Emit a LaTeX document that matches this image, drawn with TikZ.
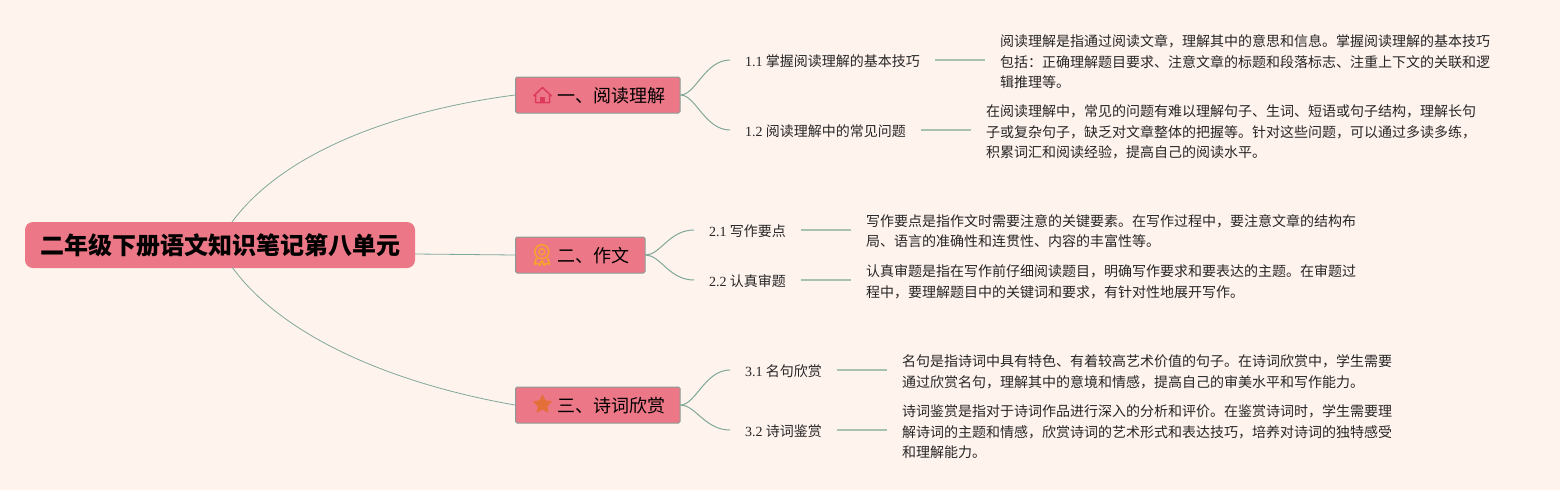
\documentclass[tikz,border=0pt]{standalone}
\usepackage{fontspec}
\usepackage{xcolor}
\usetikzlibrary{shapes.geometric,calc}
\setmainfont{Liberation Serif}
\newfontfamily\cjk{Noto Sans CJK SC}
\definecolor{pagebg}{HTML}{FFF3EE}
\definecolor{boxfill}{HTML}{EC7787}
\definecolor{boxline}{HTML}{8B9C97}
\definecolor{linkgreen}{HTML}{7FA898}
\definecolor{linkpale}{HTML}{A9C1B3}
\definecolor{houseicon}{HTML}{DE3A5E}
\definecolor{badgeicon}{HTML}{F7A32C}
\definecolor{stariconc}{HTML}{E56F38}
\tikzset{
  rootbox/.style={draw=none, fill=boxfill, rounded corners=8pt, minimum width=390pt, minimum height=46pt, inner sep=0pt, font=\cjk\bfseries\fontsize{24}{28}\selectfont, text=black},
  branchbox/.style={draw=boxline, line width=1pt, fill=boxfill, rounded corners=1.5pt, minimum height=36pt, inner sep=0pt, anchor=west},
  branchtext/.style={anchor=west, inner sep=0pt, font=\cjk\fontsize{18}{22}\selectfont, text=black},
  leaftext/.style={anchor=west, inner xsep=15pt, inner ysep=0pt, font=\cjk\fontsize{14}{20.5}\selectfont, text=black!85},
  desctext/.style={anchor=west, inner xsep=15pt, inner ysep=0pt, align=left, font=\cjk\fontsize{14}{20.5}\selectfont, text=black!85},
  link/.style={draw=linkgreen, line width=0.8pt},
  twig/.style={draw=linkgreen, line width=1pt},
  stem/.style={draw=linkpale, line width=1.3pt},
}
\begin{document}
\begin{tikzpicture}[x=1pt, y=-1pt]
  \useasboundingbox[fill=pagebg] (0,0) rectangle (1560,490);

  \coordinate (r1) at (232,222);
  \coordinate (r2) at (415,254);
  \coordinate (r3) at (232,267);

  \node[rootbox] (root) at (220,245) {二年级下册语文知识笔记第八单元};

  \node[branchbox, minimum width=164.5pt] (b1) at (515,95) {};
  \node[branchbox, minimum width=129.5pt] (b2) at (515,255) {};
  \node[branchbox, minimum width=164.5pt] (b3) at (515,405) {};

  \node[branchtext] (t1) at (557,95.5) {一、阅读理解};
  \node[branchtext] (t2) at (557,255.5) {二、作文};
  \node[branchtext] (t3) at (557,405.5) {三、诗词欣赏};

  % icons
  \draw[houseicon, line width=1.5pt, line join=round] (533.5,96) -- (542.5,87.5) -- (551.5,96) (535.5,94.5) -- (535.5,102.5) -- (549.5,102.5) -- (549.5,94.5);
  \fill[houseicon] (540,96.5) rectangle (545,102.5);
  \draw[badgeicon, line width=1.5pt] (541.8,251.7) circle (7pt);
  \draw[badgeicon, line width=1.3pt] (541.8,251.7) circle (3pt);
  \draw[badgeicon, line width=1.6pt, line join=round] (536.5,258) -- (534.5,264) -- (538,263.5) -- (540,265.5) -- (541.5,260.5) (547.5,258) -- (549.5,264) -- (546,263.5) -- (544,265.5) -- (542.5,260.5);
  \node[star, star points=5, star point ratio=2.1, fill=stariconc, inner sep=0pt, minimum size=21pt, rounded corners=1pt] (staricon) at (542.5,404.5) {};

  \node[leaftext] (l11) at (730,61.5) {{\rmfamily 1.1} 掌握阅读理解的基本技巧};
  \node[leaftext] (l12) at (730,131.5) {{\rmfamily 1.2} 阅读理解中的常见问题};
  \node[leaftext] (l21) at (694,231.5) {{\rmfamily 2.1} 写作要点};
  \node[leaftext] (l22) at (694,281.5) {{\rmfamily 2.2} 认真审题};
  \node[leaftext] (l31) at (730,371.5) {{\rmfamily 3.1} 名句欣赏};
  \node[leaftext] (l32) at (730,431.5) {{\rmfamily 3.2} 诗词鉴赏};

  \node[desctext] (d11) at (985,62) {阅读理解是指通过阅读文章，理解其中的意思和信息。掌握阅读理解的基本技巧\\包括：正确理解题目要求、注意文章的标题和段落标志、注重上下文的关联和逻\\辑推理等。};
  \node[desctext] (d12) at (971,132) {在阅读理解中，常见的问题有难以理解句子、生词、短语或句子结构，理解长句\\子或复杂句子，缺乏对文章整体的把握等。针对这些问题，可以通过多读多练，\\积累词汇和阅读经验，提高自己的阅读水平。};
  \node[desctext] (d21) at (851,231) {写作要点是指作文时需要注意的关键要素。在写作过程中，要注意文章的结构布\\局、语言的准确性和连贯性、内容的丰富性等。};
  \node[desctext] (d22) at (851,282) {认真审题是指在写作前仔细阅读题目，明确写作要求和要表达的主题。在审题过\\程中，要理解题目中的关键词和要求，有针对性地展开写作。};
  \node[desctext] (d31) at (887,372) {名句是指诗词中具有特色、有着较高艺术价值的句子。在诗词欣赏中，学生需要\\通过欣赏名句，理解其中的意境和情感，提高自己的审美水平和写作能力。};
  \node[desctext] (d32) at (887,432) {诗词鉴赏是指对于诗词作品进行深入的分析和评价。在鉴赏诗词时，学生需要理\\解诗词的主题和情感，欣赏诗词的艺术形式和表达技巧，培养对诗词的独特感受\\和理解能力。};

  \draw[link] (r1) .. controls (285,150) and (400,110) .. (b1.west);
  \draw[link] (r2) -- (b2.west);
  \draw[link] (r3) .. controls (285,340) and (400,385) .. (b3.west);

  \foreach \a/\b in {b1/l11,b1/l12,b2/l21,b2/l22,b3/l31,b3/l32}{
    \draw[twig] (\a.east) .. controls ($(\a.east)+(15,0)$) and ($(\b.west)+(-25,-1.5)$) .. ($(\b.west)+(0,-1.5)$);
  }
  \foreach \a/\b in {l11/d11,l12/d12,l21/d21,l22/d22,l31/d31,l32/d32}{
    \draw[stem] ($(\a.east)+(0,-1.5)$) -- ($(\a.east -| \b.west)+(0,-1.5)$);
  }
\end{tikzpicture}
\end{document}
